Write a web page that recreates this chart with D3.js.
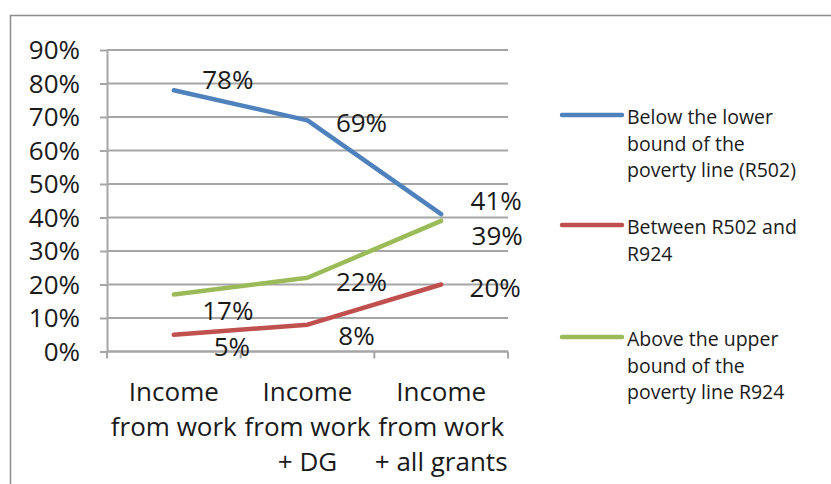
<!DOCTYPE html>
<html>
<head>
<meta charset="utf-8">
<script src="https://cdn.jsdelivr.net/npm/d3@7/dist/d3.min.js"></script>
<style>
  html, body { margin: 0; padding: 0; background: #fff; }
  svg { display: block; font-family: "Open Sans", "Liberation Sans", sans-serif; }
</style>
</head>
<body>
<svg id="chart" width="831" height="484"></svg>
<script>
// Income scenarios (x categories), each label split into lines
const categories = ["Income from work", "Income from work + DG", "Income from work + all grants"];
const categoryLines = [["Income", "from work"], ["Income", "from work", "+ DG"], ["Income", "from work", "+ all grants"]];

// Share of households in each poverty band (%)
const belowLower = [78, 69, 41];
const betweenBounds = [5, 8, 20];
const aboveUpper = [17, 22, 39];

const seriesNames = [
  ["Below the lower", "bound of the", "poverty line (R502)"],
  ["Between R502 and", "R924"],
  ["Above the upper", "bound of the", "poverty line R924"]
];
const seriesColors = ["#4f81bd", "#c0504d", "#9bbb59"];

// Y axis ticks (%)
const yTicks = [0, 10, 20, 30, 40, 50, 60, 70, 80, 90];

// Data label nudges per series/point, in px from the point
const labelOffsets = [
  [[54, -10], [54, 3], [55, -12.5]],
  [[58, 12], [49, 11], [54, 4]],
  [[54, 17], [54, 4], [56, 15.5]]
];

const series = [belowLower, betweenBounds, aboveUpper];

const svg = d3.select("#chart");

// Outer chart frame (top and left edges)
svg.append("path")
  .attr("d", "M10.5,484 V15.5 H831")
  .attr("fill", "none")
  .attr("stroke", "#8c8c8c")
  .attr("stroke-width", 1.5);

const plot = { left: 107, right: 508, top: 50, bottom: 351.5 };

const x = d3.scaleBand().domain(categories).range([plot.left, plot.right]).padding(0);
const y = d3.scaleLinear().domain([0, 90]).range([plot.bottom, plot.top]);

// Horizontal gridlines
svg.append("g")
  .selectAll("line")
  .data(yTicks)
  .join("line")
  .attr("x1", plot.left)
  .attr("x2", plot.right)
  .attr("y1", d => y(d))
  .attr("y2", d => y(d))
  .attr("stroke", "#a6a6a6")
  .attr("stroke-width", 2);

// Y axis
const yAxis = svg.append("g")
  .attr("transform", `translate(${plot.left},0)`)
  .call(d3.axisLeft(y).tickValues(yTicks).tickSize(7).tickSizeOuter(0).tickFormat(d => d + "%"));
yAxis.select(".domain").attr("stroke", "#a6a6a6").attr("stroke-width", 2);
yAxis.selectAll(".tick line").attr("stroke", "#a6a6a6").attr("stroke-width", 2);
yAxis.selectAll(".tick text")
  .attr("x", -27)
  .attr("dy", "0.34em")
  .attr("font-size", 26)
  .attr("font-family", "'Open Sans', sans-serif")
  .attr("fill", "#1a1a1a");

// X axis with boundary ticks between categories
const xAxis = svg.append("g").attr("transform", `translate(0,${plot.bottom})`);
xAxis.append("line")
  .attr("x1", plot.left).attr("x2", plot.right)
  .attr("stroke", "#a6a6a6").attr("stroke-width", 2);
const boundaries = categories.map(c => x(c)).concat([x(categories[categories.length - 1]) + x.bandwidth()]);
xAxis.selectAll("line.tick")
  .data(boundaries)
  .join("line")
  .attr("class", "tick")
  .attr("x1", d => d).attr("x2", d => d)
  .attr("y1", 0).attr("y2", 7)
  .attr("stroke", "#a6a6a6").attr("stroke-width", 2);

// Category labels
const catG = svg.append("g").attr("font-size", 26).attr("fill", "#1a1a1a").attr("text-anchor", "middle");
categories.forEach((c, i) => {
  const t = catG.append("text")
    .attr("x", x(c) + x.bandwidth() / 2)
    .attr("y", 401);
  categoryLines[i].forEach((line, j) => {
    t.append("tspan")
      .attr("x", x(c) + x.bandwidth() / 2)
      .attr("dy", j === 0 ? 0 : 35)
      .text(line);
  });
});

// Series lines
const lineGen = d3.line()
  .x((d, i) => x(categories[i]) + x.bandwidth() / 2)
  .y(d => y(d));

svg.append("g")
  .selectAll("path")
  .data(series)
  .join("path")
  .attr("d", d => lineGen(d))
  .attr("fill", "none")
  .attr("stroke", (d, i) => seriesColors[i])
  .attr("stroke-width", 4.5)
  .attr("stroke-linecap", "round")
  .attr("stroke-linejoin", "round");

// Data labels
const labG = svg.append("g").attr("font-size", 26).attr("fill", "#1a1a1a").attr("text-anchor", "middle");
series.forEach((vals, s) => {
  vals.forEach((v, i) => {
    labG.append("text")
      .attr("x", x(categories[i]) + x.bandwidth() / 2 + labelOffsets[s][i][0])
      .attr("y", y(v) + labelOffsets[s][i][1])
      .attr("dy", "0.34em")
      .text(v + "%");
  });
});

// Legend
const legendTop = [118, 228, 340];
const legG = svg.append("g");
seriesNames.forEach((lines, i) => {
  legG.append("line")
    .attr("x1", 562).attr("x2", 622)
    .attr("y1", legendTop[i] - 3).attr("y2", legendTop[i] - 3)
    .attr("stroke", seriesColors[i])
    .attr("stroke-width", 4.5)
    .attr("stroke-linecap", "round");
  const t = legG.append("text")
    .attr("x", 627)
    .attr("y", legendTop[i])
    .attr("font-size", 19.5)
    .attr("fill", "#1a1a1a");
  lines.forEach((line, j) => {
    t.append("tspan").attr("x", 627).attr("dy", j === 0 ? "0.33em" : 26.5).text(line);
  });
});
</script>
</body>
</html>
